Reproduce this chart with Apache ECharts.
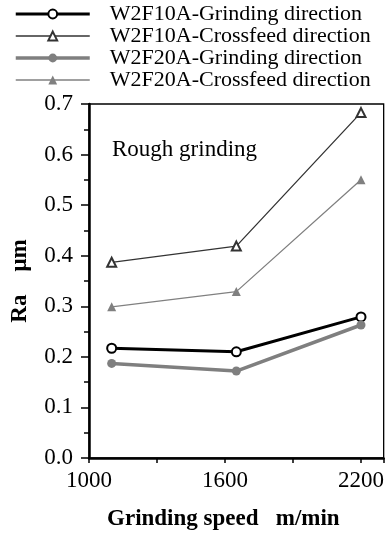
<!DOCTYPE html>
<html>
<head>
<meta charset="utf-8">
<script src="https://cdn.jsdelivr.net/npm/echarts@6/dist/echarts.min.js"></script>
<style>
  html, body { margin: 0; padding: 0; background: #fff; }
  #chart { width: 387px; height: 537px; }
</style>
</head>
<body>
<div id="chart"></div>
<script>
// grinding speed (m/min)
var speeds = [1100, 1650, 2200];
var seriesNames = [
  'W2F10A-Grinding direction',
  'W2F10A-Crossfeed direction',
  'W2F20A-Grinding direction',
  'W2F20A-Crossfeed direction'
];
// Ra (um)
var f10Grinding = [0.217, 0.210, 0.279];
var f10Crossfeed = [0.387, 0.419, 0.683];
var f20Grinding = [0.187, 0.172, 0.263];
var f20Crossfeed = [0.299, 0.329, 0.550];
var xTickLabels = [1000, 1600, 2200];

function pairs(ys) {
  var out = [];
  for (var i = 0; i < speeds.length; i++) out.push([speeds[i], ys[i]]);
  return out;
}

var font = '"Liberation Serif", "Times New Roman", "DejaVu Serif", serif';
var myChart = echarts.init(document.getElementById('chart'));

var option = {
  animation: false,
  textStyle: { fontFamily: font },
  legend: {
    orient: 'vertical',
    left: 14,
    top: 3,
    padding: 0,
    itemWidth: 74,
    itemHeight: 11,
    itemGap: 0,
    textStyle: { fontFamily: font, fontSize: 22, color: '#000', padding: [0, 0, 0, 15] },
    data: [
      { name: seriesNames[0], lineStyle: { width: 3 } },
      { name: seriesNames[1], lineStyle: { width: 1.3 } },
      { name: seriesNames[2], lineStyle: { width: 3.5 } },
      { name: seriesNames[3], lineStyle: { width: 1.3 } }
    ]
  },
  title: {
    text: 'Rough grinding',
    left: 107,
    top: 133,
    textStyle: { fontFamily: font, fontSize: 23, fontWeight: 'normal', color: '#000' }
  },
  grid: {
    left: 89, top: 104, right: 3, bottom: 79,
    show: true, borderColor: '#000', borderWidth: 1.3, backgroundColor: 'transparent'
  },
  xAxis: {
    type: 'value',
    min: 1000, max: 2300, interval: 300,
    name: 'Grinding speed   m/min',
    nameLocation: 'middle',
    nameGap: 50,
    nameTextStyle: { fontFamily: font, fontSize: 23, fontWeight: 'bold', color: '#000', padding: [0, 26, 0, 0] },
    axisLine: { lineStyle: { color: '#000', width: 2.5 } },
    axisTick: { inside: false, length: 5, lineStyle: { color: '#000', width: 1.5 } },
    axisLabel: {
      fontFamily: font, fontSize: 23, color: '#000', margin: 11,
      formatter: function (v) { return xTickLabels.indexOf(v) >= 0 ? String(v) : ''; }
    },
    splitLine: { show: false }
  },
  yAxis: {
    type: 'value',
    min: 0, max: 0.7, interval: 0.1,
    name: 'Ra    \u03bcm',
    nameLocation: 'middle',
    nameGap: 57,
    nameRotate: 90,
    nameTextStyle: { fontFamily: font, fontSize: 23, fontWeight: 'bold', color: '#000' },
    axisLine: { lineStyle: { color: '#000', width: 2.5 } },
    axisTick: { inside: false, length: 8, lineStyle: { color: '#000', width: 1.5 } },
    minorTick: { show: true, splitNumber: 2, length: 5, lineStyle: { color: '#000', width: 1.5 } },
    axisLabel: {
      fontFamily: font, fontSize: 23, color: '#000', margin: 16,
      formatter: function (v) { return v.toFixed(1); }
    },
    splitLine: { show: false }
  },
  series: [
    {
      name: seriesNames[0], type: 'line', data: pairs(f10Grinding),
      symbol: 'emptyCircle', symbolSize: 9,
      lineStyle: { color: '#000', width: 3 },
      itemStyle: { color: '#000', borderWidth: 2 }
    },
    {
      name: seriesNames[1], type: 'line', data: pairs(f10Crossfeed),
      symbol: 'emptyTriangle', symbolSize: 9,
      lineStyle: { color: '#333', width: 1.3 },
      itemStyle: { color: '#333', borderWidth: 1.5 }
    },
    {
      name: seriesNames[2], type: 'line', data: pairs(f20Grinding),
      symbol: 'circle', symbolSize: 9,
      lineStyle: { color: '#7f7f7f', width: 3.5 },
      itemStyle: { color: '#7f7f7f' }
    },
    {
      name: seriesNames[3], type: 'line', data: pairs(f20Crossfeed),
      symbol: 'triangle', symbolSize: 9,
      lineStyle: { color: '#808080', width: 1.3 },
      itemStyle: { color: '#808080' }
    }
  ]
};
myChart.setOption(option);
</script>
</body>
</html>
